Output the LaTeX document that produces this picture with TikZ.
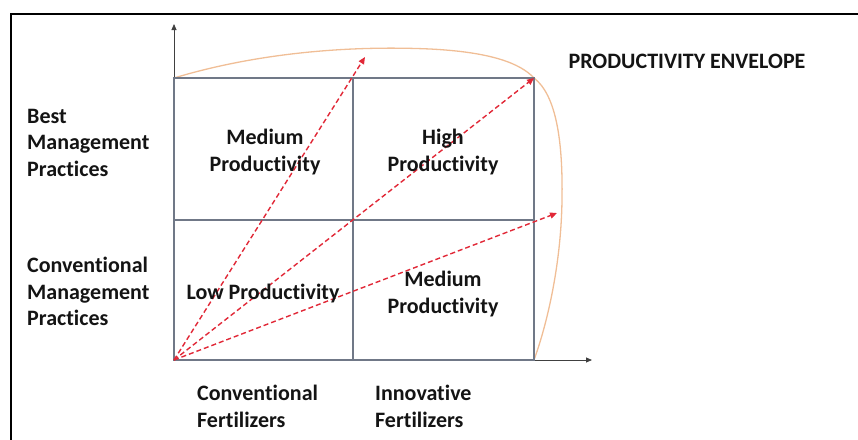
\documentclass[tikz,border=0pt]{standalone}
\usepackage{fontspec}
\setmainfont[Ligatures=NoCommon]{Carlito}
\usetikzlibrary{arrows.meta}
\definecolor{gridc}{RGB}{112,120,135}
\definecolor{envc}{RGB}{240,190,150}
\definecolor{arrc}{RGB}{225,40,55}
\definecolor{txtc}{RGB}{20,20,20}
\tikzset{
  lbl/.style={font=\bfseries\fontsize{22}{26.5}\selectfont, text=txtc, inner sep=0pt},
  leftlbl/.style={lbl, align=left, anchor=north west},
  ctrlbl/.style={lbl, align=center},
  gridline/.style={draw=gridc, line width=1.8pt},
  axis/.style={draw=black!75, line width=0.8pt, -{Triangle[length=6pt,width=5pt]}},
  ray/.style={draw=arrc, line width=1.4pt, dash pattern=on 5pt off 3pt, -{Triangle[length=7pt,width=6pt]}},
  env/.style={draw=envc, line width=1.3pt}
}
\begin{document}
\begin{tikzpicture}[x=1pt,y=-1pt]
\useasboundingbox (0,0) rectangle (858,439);
% frame
\draw[line width=2.5pt, black] (11,440) -- (11,14) -- (859,14);
% coordinates
\coordinate (O) at (174,360);
\coordinate (M) at (353,220);
\coordinate (TL) at (174,78);
\coordinate (TR) at (534,78);
\coordinate (BR) at (534,360);
\coordinate (ytip) at (174,24);
\coordinate (xtip) at (592,360);
\coordinate (r1) at (365,57);
\coordinate (r3) at (557,213);
% envelope
\draw[env] (TL) .. controls (250,55) and (340,45) .. (430,49)
  .. controls (490,52) and (520,63) .. (TR)
  .. controls (556,95) and (563,140) .. (562,200)
  .. controls (561,270) and (545,330) .. (BR);
% axes
\draw[axis] (O) -- (ytip);
\draw[axis] (O) -- (xtip);
% grid
\draw[gridline] (TL) rectangle (BR);
\draw[gridline] (353,78) -- (353,360);
\draw[gridline] (174,220) -- (534,220);
% rays
\draw[ray] (O) -- (r1);
\draw[ray] (O) -- (TR);
\draw[ray] (O) -- (r3);
% labels
\node[leftlbl] (bmp) at (27,109) {Best\\Management\\Practices};
\node[leftlbl] (cmp) at (27,257) {Conventional\\Management\\Practices};
\node[ctrlbl] (q1) at (265,152) {Medium\\Productivity};
\node[ctrlbl] (q2) at (443,152) {High\\Productivity};
\node[ctrlbl] (q3) at (263,294) {Low Productivity};
\node[ctrlbl] (q4) at (443,294) {Medium\\Productivity};
\node[leftlbl] (cf) at (197,385) {Conventional\\Fertilizers};
\node[leftlbl] (inf) at (375,385) {Innovative\\Fertilizers};
\node[ctrlbl] (pe) at (687,61) {PRODUCTIVITY ENVELOPE};
\end{tikzpicture}
\end{document}
